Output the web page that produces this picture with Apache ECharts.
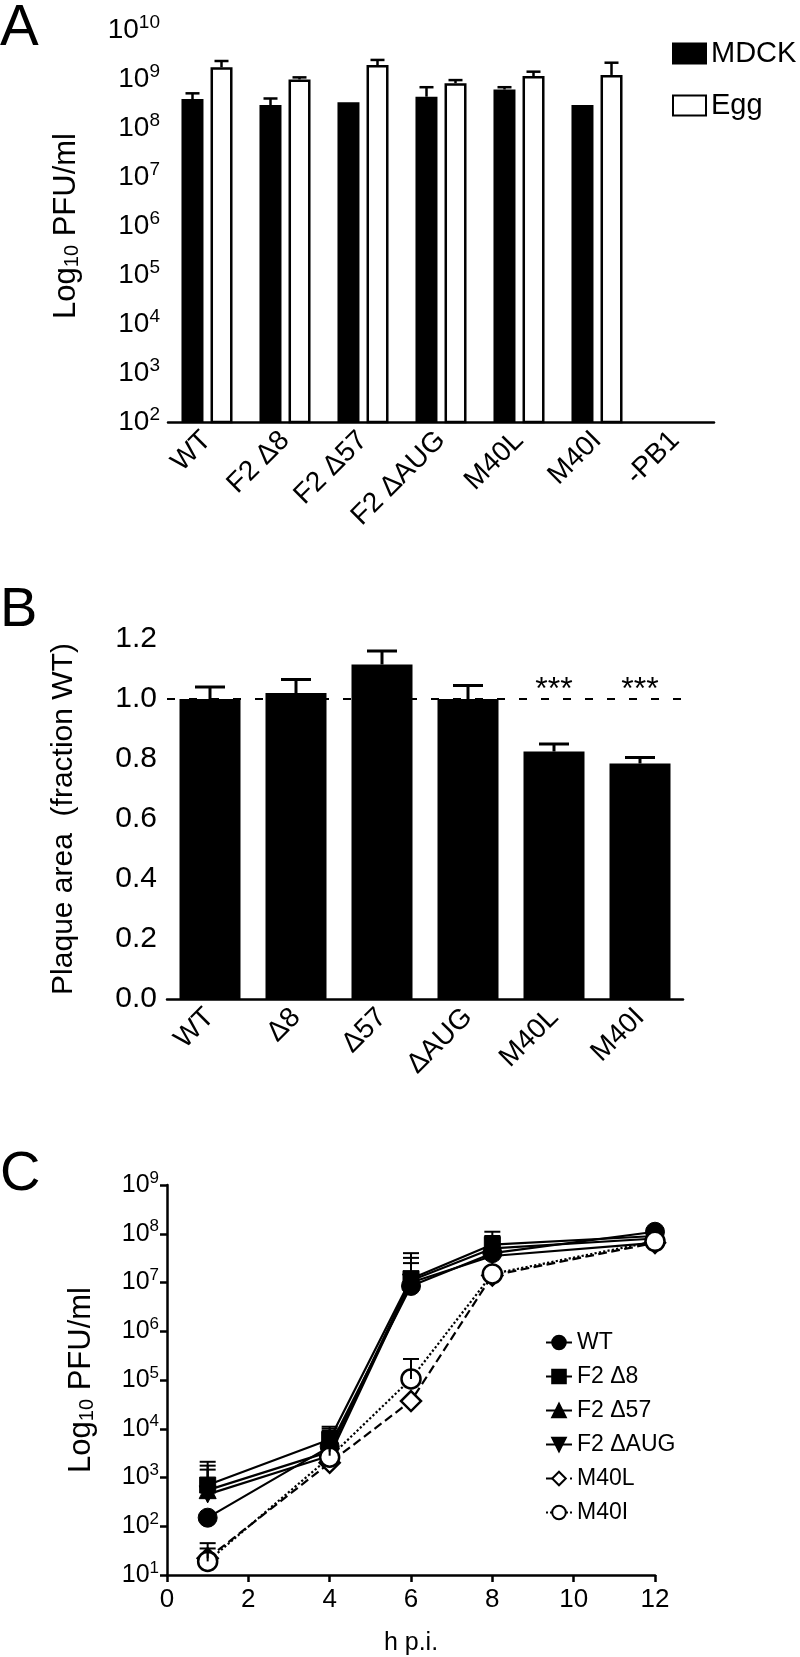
<!DOCTYPE html>
<html>
<head>
<meta charset="utf-8">
<script src="https://cdn.jsdelivr.net/npm/echarts@6/dist/echarts.min.js"></script>
<style>
  html, body { margin: 0; padding: 0; background: #fff; }
  #fig { width: 800px; height: 1657px; }
</style>
</head>
<body>
<div id="fig"></div>
<script>
// Panel A: titres in MDCK cells and eggs
var catsA = ['WT', 'F2 Δ8', 'F2 Δ57', 'F2 ΔAUG', 'M40L', 'M40I', '-PB1'];
var mdck = [3.9e8, 2.95e8, 3.35e8, 4.35e8, 6.1e8, 2.95e8, null];
var mdckTop = [5.1e8, 4.0e8, null, 6.8e8, 6.8e8, null, null];
var egg = [1.73e9, 9.8e8, 1.93e9, 8.2e8, 1.15e9, 1.21e9, null];
var eggTop = [2.33e9, 1.08e9, 2.45e9, 9.5e8, 1.41e9, 2.15e9, null];

// Panel B: plaque area (fraction WT)
var catsB = ['WT', 'Δ8', 'Δ57', 'ΔAUG', 'M40L', 'M40I'];
var area = [1.0, 1.02, 1.115, 1.0, 0.825, 0.785];
var areaTop = [1.04, 1.065, 1.16, 1.045, 0.85, 0.805];
var stars = ['', '', '', '', '***', '***'];

// Panel C: growth curves
var hours = [1, 4, 6, 8, 12];
var curveNames = ['WT', 'F2 Δ8', 'F2 Δ57', 'F2 ΔAUG', 'M40L', 'M40I'];
var wt = [150, 4300, 8.5e6, 4e7, 1.1e8];
var d8 = [700, 6000, 1.2e7, 6e7, 9e7];
var d57 = [550, 3400, 1.1e7, 5e7, 8e7];
var dAUG = [450, 2800, 1e7, 3.5e7, 6.5e7];
var m40l = [22, 2000, 3.7e4, 1.4e7, 6.5e7];
var m40i = [19, 2600, 1.05e5, 1.5e7, 7e7];
var wtTop = [null, null, null, null, null];
var d8Top = [2100, 1.1e4, 4e7, 1.1e8, null];
var d57Top = [1750, 1e4, 3.2e7, 9e7, null];
var dAUGTop = [1450, 9e3, 2.5e7, 8e7, null];
var m40lTop = [45, null, null, null, null];
var m40iTop = [35, null, 2.7e5, null, null];

var FONT = 'Liberation Sans, Arial, Helvetica, sans-serif';
var chart = echarts.init(document.getElementById('fig'));

function errData(xs, vals, tops) {
  var out = [];
  for (var i = 0; i < vals.length; i++) {
    if (vals[i] != null && tops[i] != null) out.push([xs[i], vals[i], tops[i]]);
  }
  return out;
}

function errSeries(xi, yi, data, offset, cap, width) {
  return {
    type: 'custom',
    xAxisIndex: xi, yAxisIndex: yi,
    clip: false, z: 3,
    data: data,
    renderItem: function (params, api) {
      var a = api.coord([api.value(0), api.value(1)]);
      var b = api.coord([api.value(0), api.value(2)]);
      var x = a[0] + offset;
      var st = { stroke: '#000', lineWidth: width };
      return {
        type: 'group',
        children: [
          { type: 'line', shape: { x1: x, y1: a[1], x2: x, y2: b[1] }, style: st },
          { type: 'line', shape: { x1: x - cap / 2, y1: b[1], x2: x + cap / 2, y2: b[1] }, style: st }
        ]
      };
    }
  };
}

var idxA = catsA.map(function (c, i) { return i; });
var idxB = catsB.map(function (c, i) { return i; });

var axisLine = { lineStyle: { color: '#000', width: 2.5 } };
var axisTick = { length: 7, lineStyle: { color: '#000', width: 2.5 } };

function powLabel(size) {
  return {
    color: '#000', fontFamily: FONT, margin: 8,
    formatter: function (v) { return '{b|10}{s|' + Math.round(Math.log10(v)) + '}'; },
    rich: {
      b: { fontSize: size, fontFamily: FONT, color: '#000' },
      s: { fontSize: Math.round(size * 0.68), fontFamily: FONT, color: '#000', padding: [0, 0, Math.round(size * 0.55), 0] }
    }
  };
}

var logTitle = {
  fontFamily: FONT, color: '#000',
  rich: {
    a: { fontSize: 31, fontFamily: FONT, color: '#000' },
    sub: { fontSize: 20, fontFamily: FONT, color: '#000', padding: [12, 0, 0, 0] }
  }
};

var lineSeries = [
  { name: 'WT', data: wt, symbol: 'circle', size: 19, type: 'solid' },
  { name: 'F2 Δ8', data: d8, symbol: 'rect', size: 16, type: 'solid' },
  { name: 'F2 Δ57', data: d57, symbol: 'triangle', size: 17, type: 'solid' },
  { name: 'F2 ΔAUG', data: dAUG, symbol: 'triangle', rotate: 180, size: 17, type: 'solid' },
  { name: 'M40L', data: m40l, symbol: 'diamond', size: 20, type: 'dashed', hollow: true },
  { name: 'M40I', data: m40i, symbol: 'circle', size: 19, type: 'dotted', hollow: true }
];

var series = [
  {
    name: 'MDCK', type: 'bar', xAxisIndex: 0, yAxisIndex: 0,
    data: mdck, barWidth: 22, barGap: '32%',
    itemStyle: { color: '#000', borderColor: '#000', borderWidth: 2 }
  },
  {
    name: 'Egg', type: 'bar', xAxisIndex: 0, yAxisIndex: 0,
    data: egg, barWidth: 22,
    itemStyle: { color: '#fff', borderColor: '#000', borderWidth: 2.5 }
  },
  errSeries(0, 0, errData(idxA, mdck, mdckTop), -14.5, 14, 2.5),
  errSeries(0, 0, errData(idxA, egg, eggTop), 14.5, 14, 2.5),
  {
    name: 'Plaque area', type: 'bar', xAxisIndex: 1, yAxisIndex: 1,
    data: area, barWidth: 61,
    itemStyle: { color: '#000' },
    markLine: {
      silent: true, symbol: 'none', label: { show: false },
      lineStyle: { color: '#000', type: [8, 14], width: 2 },
      data: [{ yAxis: 1 }]
    }
  },
  errSeries(1, 1, errData(idxB, area, areaTop), 0, 30, 3),
  {
    type: 'custom', xAxisIndex: 1, yAxisIndex: 1, clip: false, z: 4,
    data: idxB.filter(function (i) { return stars[i]; }).map(function (i) { return [i, 1.0]; }),
    renderItem: function (params, api) {
      var p = api.coord([api.value(0), api.value(1)]);
      return {
        type: 'text',
        x: p[0], y: p[1] + 7,
        style: {
          text: stars[api.value(0)], fill: '#000', fontSize: 32, fontFamily: FONT,
          align: 'center', verticalAlign: 'bottom'
        }
      };
    }
  }
];

lineSeries.forEach(function (s) {
  series.push({
    name: s.name, type: 'line', xAxisIndex: 2, yAxisIndex: 2,
    data: hours.map(function (h, i) { return [h, s.data[i]]; }),
    symbol: s.symbol, symbolSize: s.size, symbolRotate: s.rotate || 0,
    lineStyle: { color: '#000', width: 2.2, type: s.type },
    itemStyle: s.hollow
      ? { color: '#fff', borderColor: '#000', borderWidth: 2.5 }
      : { color: '#000', borderColor: '#000', borderWidth: 1 },
    z: 2
  });
});

[[wt, wtTop], [d8, d8Top], [d57, d57Top], [dAUG, dAUGTop], [m40l, m40lTop], [m40i, m40iTop]].forEach(function (p) {
  series.push(errSeries(2, 2, errData(hours, p[0], p[1]), 0, 16, 2));
});

chart.setOption({
  animation: false,
  backgroundColor: '#fff',
  textStyle: { fontFamily: FONT, color: '#000' },
  graphic: [
    { type: 'text', left: 0, top: 0, style: { text: 'A', fontSize: 58, fontFamily: FONT, fill: '#000' } },
    { type: 'text', left: 0, top: 583, style: { text: 'B', fontSize: 56, fontFamily: FONT, fill: '#000' } },
    { type: 'text', left: 0, top: 1147, style: { text: 'C', fontSize: 56, fontFamily: FONT, fill: '#000' } }
  ],
  legend: [
    {
      data: ['MDCK', 'Egg'], orient: 'vertical', left: 667, top: 34,
      itemWidth: 33, itemHeight: 20, itemGap: 23, icon: 'rect',
      textStyle: { fontSize: 29, fontFamily: FONT, color: '#000' }
    },
    {
      data: curveNames, orient: 'vertical', left: 540, top: 1326,
      itemWidth: 26, itemHeight: 17, itemGap: 11,
      textStyle: { fontSize: 23, fontFamily: FONT, color: '#000' }
    }
  ],
  grid: [
    { left: 168, top: 30, width: 546, height: 392 },
    { left: 167, top: 639, width: 516, height: 360 },
    { left: 167, top: 1185, width: 488, height: 392 }
  ],
  xAxis: [
    {
      gridIndex: 0, type: 'category', data: catsA,
      axisLine: axisLine, axisTick: Object.assign({ alignWithLabel: true }, axisTick),
      axisLabel: { rotate: 45, fontSize: 28, color: '#000', fontFamily: FONT, margin: 14 }
    },
    {
      gridIndex: 1, type: 'category', data: catsB,
      axisLine: axisLine, axisTick: Object.assign({ alignWithLabel: true }, axisTick),
      axisLabel: { rotate: 45, fontSize: 28, color: '#000', fontFamily: FONT, margin: 14 }
    },
    {
      gridIndex: 2, type: 'value', min: 0, max: 12, interval: 2,
      name: 'h p.i.', nameLocation: 'middle', nameGap: 56,
      nameTextStyle: { fontSize: 25, fontFamily: FONT, color: '#000' },
      axisLine: axisLine, axisTick: axisTick, splitLine: { show: false },
      axisLabel: { fontSize: 26, color: '#000', fontFamily: FONT, margin: 12 }
    }
  ],
  yAxis: [
    {
      gridIndex: 0, type: 'log', logBase: 10, min: 1e2, max: 1e10, splitNumber: 8,
      name: '{a|Log}{sub|10}{a| PFU/ml}', nameLocation: 'middle', nameGap: 86,
      nameTextStyle: logTitle,
      axisLine: axisLine, axisTick: axisTick, splitLine: { show: false },
      minorTick: { show: false },
      axisLabel: powLabel(28)
    },
    {
      gridIndex: 1, type: 'value', min: 0, max: 1.2, interval: 0.2,
      name: 'Plaque area  (fraction WT)', nameLocation: 'middle', nameGap: 88,
      nameTextStyle: { fontSize: 30, fontFamily: FONT, color: '#000' },
      axisLine: axisLine, axisTick: axisTick, splitLine: { show: false },
      axisLabel: {
        fontSize: 30, color: '#000', fontFamily: FONT, margin: 10,
        formatter: function (v) { return v.toFixed(1); }
      }
    },
    {
      gridIndex: 2, type: 'log', logBase: 10, min: 10, max: 1e9, splitNumber: 8,
      name: '{a|Log}{sub|10}{a| PFU/ml}', nameLocation: 'middle', nameGap: 70,
      nameTextStyle: logTitle,
      axisLine: axisLine, axisTick: axisTick, splitLine: { show: false },
      axisLabel: powLabel(25)
    }
  ],
  series: series
});
</script>
</body>
</html>
